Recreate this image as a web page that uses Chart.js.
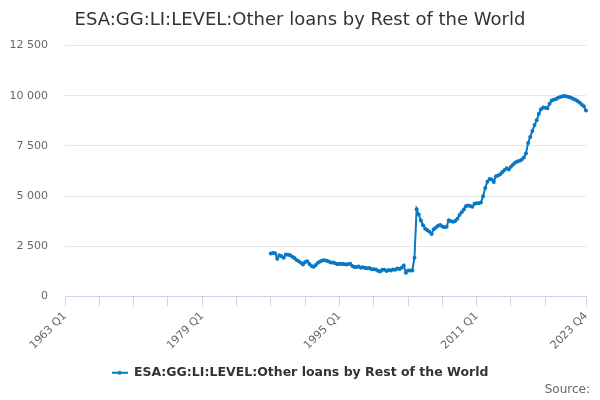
<!DOCTYPE html>
<html>
<head>
<meta charset="utf-8">
<script src="https://cdn.jsdelivr.net/npm/chart.js@4"></script>
<style>
html, body { margin: 0; padding: 0; background: #fff; }
</style>
</head>
<body>
<canvas id="chart" width="600" height="400"></canvas>
<script>
// Categories: every quarter 1963 Q1 .. 2023 Q4
const quarters = [];
for (let y = 1963; y <= 2023; y++) {
    for (let q = 1; q <= 4; q++) quarters.push(y + ' Q' + q);
}

const seriesName = 'ESA:GG:LI:LEVEL:Other loans by Rest of the World';
const seriesStart = '1987 Q1';
const seriesValues = [
    2140, 2170, 2150, 1880, 2050, 2000, 1930, 2090, 2080, 2060,
    1980, 1920, 1820, 1750, 1680, 1600, 1720, 1760, 1620, 1520,
    1480, 1570, 1680, 1740, 1790, 1810, 1780, 1740, 1700, 1690,
    1660, 1610, 1630, 1620, 1620, 1600, 1610, 1630, 1520, 1470,
    1470, 1495, 1430, 1460, 1420, 1410, 1420, 1360, 1360, 1340,
    1280, 1240, 1330, 1330, 1270, 1320, 1300, 1350, 1330, 1400,
    1370, 1430, 1550, 1180, 1290, 1300, 1300, 1930, 4350, 4085,
    3785, 3550, 3380, 3300, 3230, 3120, 3350, 3440, 3520, 3560,
    3490, 3450, 3480, 3800, 3750, 3730, 3760, 3870, 4060, 4200,
    4340, 4500, 4530, 4510, 4470, 4620, 4640, 4650, 4680, 4995,
    5400, 5720, 5860, 5830, 5700, 5990, 6030, 6090, 6200, 6300,
    6390, 6330, 6470, 6580, 6680, 6730, 6760, 6810, 6930, 7130,
    7650, 7950, 8250, 8550, 8780, 9100, 9330, 9420, 9400, 9380,
    9600, 9760, 9800, 9840, 9900, 9940, 9980, 9990, 9970, 9940,
    9900, 9850, 9800, 9740, 9660, 9570, 9480, 9270
];
const tickLabels = ['1963 Q1', '1979 Q1', '1995 Q1', '2011 Q1', '2023 Q4'];
const yMax = 12500;
const yStep = 2500;

const lineColor = '#0a78c2';
const font = 'DejaVu Sans';

// Align the series with the quarter categories
const startIdx = quarters.indexOf(seriesStart);
const data = quarters.map((q, i) => i < startIdx ? null : seriesValues[i - startIdx]);

// Legend symbol: short line with a dot
const legendIcon = document.createElement('canvas');
legendIcon.width = 16;
legendIcon.height = 6;
(() => {
    const c = legendIcon.getContext('2d');
    c.strokeStyle = lineColor;
    c.lineWidth = 2;
    c.beginPath();
    c.moveTo(0, 3);
    c.lineTo(16, 3);
    c.stroke();
    c.fillStyle = lineColor;
    c.beginPath();
    c.arc(8, 3, 2, 0, Math.PI * 2);
    c.fill();
})();

const sourcePlugin = {
    id: 'sourceText',
    // let the y labels draw into the left padding (not clipped)
    afterLayout(chart) {
        chart.scales.y.left = 0;
    },
    afterDraw(chart) {
        const ctx = chart.ctx;
        ctx.save();
        ctx.font = '12px "' + font + '"';
        ctx.fillStyle = '#666';
        ctx.textAlign = 'right';
        ctx.textBaseline = 'middle';
        ctx.fillText('Source:', 590, 390);
        ctx.restore();
    }
};

const fmt = v => String(v).replace(/\B(?=(\d{3})+(?!\d))/g, ' ');

new Chart(document.getElementById('chart'), {
    type: 'line',
    data: {
        labels: quarters,
        datasets: [{
            label: seriesName,
            data: data,
            borderColor: lineColor,
            backgroundColor: lineColor,
            borderWidth: 2,
            pointRadius: 2,
            pointHoverRadius: 3,
            pointBorderWidth: 0,
            tension: 0,
            spanGaps: false
        }]
    },
    options: {
        responsive: false,
        animation: false,
        devicePixelRatio: 1,
        layout: { padding: { left: 14, right: 14, top: 0, bottom: 11 } },
        plugins: {
            title: {
                display: true,
                text: seriesName,
                color: '#333',
                font: { family: font, size: 18, weight: 'normal' },
                padding: { top: 10, bottom: 14 }
            },
            legend: {
                position: 'bottom',
                labels: {
                    usePointStyle: true,
                    pointStyleWidth: 16,
                    color: '#333',
                    padding: 10,
                    font: { family: font, size: 12.5, weight: 'bold' },
                    generateLabels: chart => Chart.defaults.plugins.legend.labels.generateLabels(chart)
                        .map(l => Object.assign(l, { pointStyle: legendIcon }))
                }
            },
            tooltip: { enabled: false }
        },
        scales: {
            x: {
                type: 'category',
                offset: false,
                afterBuildTicks: s => {
                    const last = quarters.length - 1;
                    s.ticks = s.ticks.filter(t => (t.value % 16 === 0 && t.value <= 224) || t.value === last);
                },
                afterFit: s => {
                    s.height = 60;
                    s.paddingLeft = 0;
                    s.paddingRight = 0;
                },
                ticks: {
                    autoSkip: false,
                    minRotation: 45,
                    maxRotation: 45,
                    padding: 3,
                    color: '#666',
                    font: { family: font, size: 11 },
                    callback: function (v) {
                        const l = quarters[v];
                        return tickLabels.includes(l) ? l : '';
                    }
                },
                grid: { drawOnChartArea: false, tickLength: 10, tickColor: '#ccd6eb' },
                border: { color: '#ccd6eb', width: 1 }
            },
            y: {
                min: 0,
                max: yMax,
                afterFit: s => { s.width = 51; },
                ticks: {
                    stepSize: yStep,
                    padding: 17,
                    color: '#666',
                    font: { family: font, size: 11 },
                    callback: v => fmt(v)
                },
                grid: { color: '#e6e6e6', drawTicks: false },
                border: { display: false }
            }
        }
    },
    plugins: [sourcePlugin]
});
</script>
</body>
</html>
